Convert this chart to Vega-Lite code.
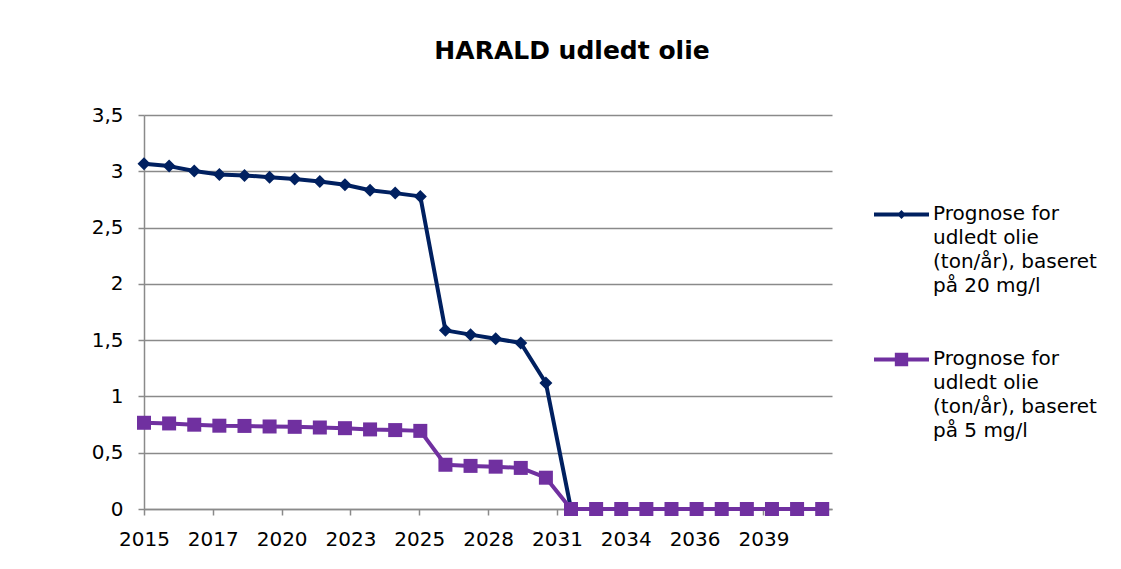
{
  "$schema": "https://vega.github.io/schema/vega-lite/v6.json",
  "width": 688,
  "height": 394,
  "autosize": {"type": "none"},
  "padding": {"left": 144, "top": 115, "right": 289, "bottom": 60},
  "background": "white",
  "title": {
    "text": "HARALD udledt olie",
    "font": "DejaVu Sans",
    "fontSize": 25,
    "fontWeight": "bold",
    "color": "#000000",
    "anchor": "middle",
    "frame": "group",
    "dx": 84,
    "offset": 41
  },
  "data": {
    "values": [
      {"year": 2015, "series": "Prognose for udledt olie (ton/år), baseret på 20 mg/l", "value": 3.067},
      {"year": 2016, "series": "Prognose for udledt olie (ton/år), baseret på 20 mg/l", "value": 3.046},
      {"year": 2017, "series": "Prognose for udledt olie (ton/år), baseret på 20 mg/l", "value": 3.002},
      {"year": 2018, "series": "Prognose for udledt olie (ton/år), baseret på 20 mg/l", "value": 2.972},
      {"year": 2019, "series": "Prognose for udledt olie (ton/år), baseret på 20 mg/l", "value": 2.963},
      {"year": 2020, "series": "Prognose for udledt olie (ton/år), baseret på 20 mg/l", "value": 2.948},
      {"year": 2021, "series": "Prognose for udledt olie (ton/år), baseret på 20 mg/l", "value": 2.931},
      {"year": 2022, "series": "Prognose for udledt olie (ton/år), baseret på 20 mg/l", "value": 2.910},
      {"year": 2023, "series": "Prognose for udledt olie (ton/år), baseret på 20 mg/l", "value": 2.881},
      {"year": 2024, "series": "Prognose for udledt olie (ton/år), baseret på 20 mg/l", "value": 2.831},
      {"year": 2025, "series": "Prognose for udledt olie (ton/år), baseret på 20 mg/l", "value": 2.806},
      {"year": 2026, "series": "Prognose for udledt olie (ton/år), baseret på 20 mg/l", "value": 2.777},
      {"year": 2027, "series": "Prognose for udledt olie (ton/år), baseret på 20 mg/l", "value": 1.587},
      {"year": 2028, "series": "Prognose for udledt olie (ton/år), baseret på 20 mg/l", "value": 1.549},
      {"year": 2029, "series": "Prognose for udledt olie (ton/år), baseret på 20 mg/l", "value": 1.513},
      {"year": 2030, "series": "Prognose for udledt olie (ton/år), baseret på 20 mg/l", "value": 1.475},
      {"year": 2031, "series": "Prognose for udledt olie (ton/år), baseret på 20 mg/l", "value": 1.119},
      {"year": 2032, "series": "Prognose for udledt olie (ton/år), baseret på 20 mg/l", "value": 0},
      {"year": 2033, "series": "Prognose for udledt olie (ton/år), baseret på 20 mg/l", "value": 0},
      {"year": 2034, "series": "Prognose for udledt olie (ton/år), baseret på 20 mg/l", "value": 0},
      {"year": 2035, "series": "Prognose for udledt olie (ton/år), baseret på 20 mg/l", "value": 0},
      {"year": 2036, "series": "Prognose for udledt olie (ton/år), baseret på 20 mg/l", "value": 0},
      {"year": 2037, "series": "Prognose for udledt olie (ton/år), baseret på 20 mg/l", "value": 0},
      {"year": 2038, "series": "Prognose for udledt olie (ton/år), baseret på 20 mg/l", "value": 0},
      {"year": 2039, "series": "Prognose for udledt olie (ton/år), baseret på 20 mg/l", "value": 0},
      {"year": 2040, "series": "Prognose for udledt olie (ton/år), baseret på 20 mg/l", "value": 0},
      {"year": 2041, "series": "Prognose for udledt olie (ton/år), baseret på 20 mg/l", "value": 0},
      {"year": 2042, "series": "Prognose for udledt olie (ton/år), baseret på 20 mg/l", "value": 0},
      {"year": 2015, "series": "Prognose for udledt olie (ton/år), baseret på 5 mg/l", "value": 0.766},
      {"year": 2016, "series": "Prognose for udledt olie (ton/år), baseret på 5 mg/l", "value": 0.760},
      {"year": 2017, "series": "Prognose for udledt olie (ton/år), baseret på 5 mg/l", "value": 0.749},
      {"year": 2018, "series": "Prognose for udledt olie (ton/år), baseret på 5 mg/l", "value": 0.740},
      {"year": 2019, "series": "Prognose for udledt olie (ton/år), baseret på 5 mg/l", "value": 0.738},
      {"year": 2020, "series": "Prognose for udledt olie (ton/år), baseret på 5 mg/l", "value": 0.733},
      {"year": 2021, "series": "Prognose for udledt olie (ton/år), baseret på 5 mg/l", "value": 0.730},
      {"year": 2022, "series": "Prognose for udledt olie (ton/år), baseret på 5 mg/l", "value": 0.724},
      {"year": 2023, "series": "Prognose for udledt olie (ton/år), baseret på 5 mg/l", "value": 0.718},
      {"year": 2024, "series": "Prognose for udledt olie (ton/år), baseret på 5 mg/l", "value": 0.707},
      {"year": 2025, "series": "Prognose for udledt olie (ton/år), baseret på 5 mg/l", "value": 0.701},
      {"year": 2026, "series": "Prognose for udledt olie (ton/år), baseret på 5 mg/l", "value": 0.694},
      {"year": 2027, "series": "Prognose for udledt olie (ton/år), baseret på 5 mg/l", "value": 0.393},
      {"year": 2028, "series": "Prognose for udledt olie (ton/år), baseret på 5 mg/l", "value": 0.383},
      {"year": 2029, "series": "Prognose for udledt olie (ton/år), baseret på 5 mg/l", "value": 0.376},
      {"year": 2030, "series": "Prognose for udledt olie (ton/år), baseret på 5 mg/l", "value": 0.365},
      {"year": 2031, "series": "Prognose for udledt olie (ton/år), baseret på 5 mg/l", "value": 0.278},
      {"year": 2032, "series": "Prognose for udledt olie (ton/år), baseret på 5 mg/l", "value": 0},
      {"year": 2033, "series": "Prognose for udledt olie (ton/år), baseret på 5 mg/l", "value": 0},
      {"year": 2034, "series": "Prognose for udledt olie (ton/år), baseret på 5 mg/l", "value": 0},
      {"year": 2035, "series": "Prognose for udledt olie (ton/år), baseret på 5 mg/l", "value": 0},
      {"year": 2036, "series": "Prognose for udledt olie (ton/år), baseret på 5 mg/l", "value": 0},
      {"year": 2037, "series": "Prognose for udledt olie (ton/år), baseret på 5 mg/l", "value": 0},
      {"year": 2038, "series": "Prognose for udledt olie (ton/år), baseret på 5 mg/l", "value": 0},
      {"year": 2039, "series": "Prognose for udledt olie (ton/år), baseret på 5 mg/l", "value": 0},
      {"year": 2040, "series": "Prognose for udledt olie (ton/år), baseret på 5 mg/l", "value": 0},
      {"year": 2041, "series": "Prognose for udledt olie (ton/år), baseret på 5 mg/l", "value": 0},
      {"year": 2042, "series": "Prognose for udledt olie (ton/år), baseret på 5 mg/l", "value": 0}
    ]
  },
  "encoding": {
    "x": {
      "field": "year",
      "type": "quantitative",
      "scale": {"domain": [2015, 2042.39], "nice": false, "zero": false},
      "axis": {
        "title": null,
        "grid": false,
        "values": [2015, 2017.74, 2020.48, 2023.22, 2025.96, 2028.7, 2031.44, 2034.18, 2036.92, 2039.66],
        "labelExpr": "['2015','2017','2020','2023','2025','2028','2031','2034','2036','2039'][round((datum.value-2015)/2.74)]",
        "tickSize": 6,
        "labelPadding": 14,
        "labelOverlap": false,
        "labelFlush": false
      }
    },
    "y": {
      "field": "value",
      "type": "quantitative",
      "scale": {"domain": [0, 3.5], "nice": false},
      "axis": {
        "title": null,
        "grid": true,
        "values": [0, 0.5, 1, 1.5, 2, 2.5, 3, 3.5],
        "labelExpr": "replace(format(datum.value, '~g'), '.', ',')",
        "tickSize": 6,
        "labelPadding": 15
      }
    }
  },
  "layer": [
    {
      "mark": {"type": "line", "strokeWidth": 4, "strokeJoin": "round"},
      "encoding": {
        "color": {
          "field": "series",
          "type": "nominal",
          "scale": {"range": ["#002060", "#7030A0"]},
          "legend": {
            "orient": "none",
            "legendX": 728,
            "legendY": 70,
            "title": null,
            "padding": 0,
            "symbolSize": 3025,
            "symbolType": "stroke",
            "labelFont": "DejaVu Sans",
            "labelFontSize": 20,
            "labelColor": "#000000",
            "labelLimit": 400,
            "labelOffset": 2,
            "labelBaseline": "top",
            "rowPadding": 34,
            "labelExpr": "split(replace(replace(replace(datum.label, 'for ', 'for|'), 'olie ', 'olie|'), 'baseret ', 'baseret|'), '|')",
            "encode": {
              "symbols": {
                "update": {
                  "shape": {"signal": "indexof(datum.value, '20 mg') >= 0 ? 'M-1,0H1M0,-0.06L0.06,0L0,0.06L-0.06,0Z' : 'M-1,0H1M-0.17,-0.17H0.17V0.17H-0.17Z'"},
                  "fill": {"scale": "color", "field": "value"},
                  "stroke": {"scale": "color", "field": "value"},
                  "strokeWidth": {"value": 4},
                  "opacity": {"value": 1},
                  "fillOpacity": {"value": 1},
                  "strokeOpacity": {"value": 1}
                }
              },
              "labels": {
                "update": {
                  "lineHeight": {"value": 24},
                  "dy": {"value": -11}
                }
              }
            }
          }
        }
      }
    },
    {
      "mark": {"type": "point", "filled": true, "opacity": 1, "strokeWidth": 0},
      "encoding": {
        "color": {"field": "series", "type": "nominal", "legend": null},
        "shape": {"field": "series", "type": "nominal", "scale": {"range": ["diamond", "square"]}, "legend": null},
        "size": {"field": "series", "type": "nominal", "scale": {"range": [169, 196]}, "legend": null}
      }
    }
  ],
  "config": {
    "view": {"stroke": null},
    "font": "DejaVu Sans",
    "axis": {
      "labelFont": "DejaVu Sans",
      "labelFontSize": 20,
      "labelColor": "#000000",
      "domainColor": "#8a8a8a",
      "domainWidth": 1.5,
      "tickColor": "#8a8a8a",
      "tickWidth": 1.5,
      "gridColor": "#8a8a8a",
      "gridWidth": 1.5,
      "gridOpacity": 1
    }
  }
}
